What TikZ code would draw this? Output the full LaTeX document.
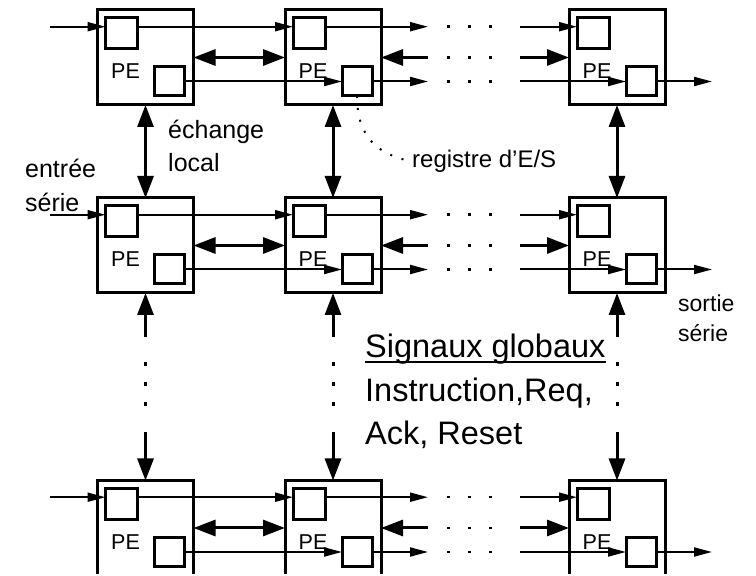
\documentclass[tikz,border=0pt]{standalone}
\usepackage{fontspec}
\setmainfont{Liberation Sans}
\usetikzlibrary{positioning, arrows.meta}

\tikzset{
  xtip/.tip={Triangle[length=22pt,width=16pt]},
  stip/.tip={Triangle[length=18pt,width=9pt]}
}

\begin{document}
\begin{tikzpicture}[x=1pt, y=1pt,
  pebox/.style={draw, line width=3pt, minimum width=96pt, minimum height=95pt, inner sep=0pt, outer sep=0pt},
  reg/.style={draw, line width=3pt, inner sep=0pt, outer sep=0pt},
  petext/.style={inner sep=0pt, font=\fontsize{21.5}{22}\selectfont},
  serial/.style={line width=2pt, -stip},
  xchg/.style={line width=3pt},
  hdots/.style={line width=2.5pt, dash pattern=on 2.5pt off 18.5pt},
  vdots/.style={line width=3pt, dash pattern=on 4pt off 16pt},
  iodots/.style={line width=2pt, dash pattern=on 2pt off 10pt, shorten >=6pt},
  txt/.style={inner sep=0pt, anchor=base west}]
  \useasboundingbox (0,0) rectangle (756,576);
  \clip (0,2) rectangle (756,576);

  % processing elements
  \node[pebox] (pe11) at (145.5,518.5) {};
  \node[pebox, right=91.5pt of pe11]  (pe12) {};
  \node[pebox, right=188pt of pe12]   (pe13) {};
  \node[pebox, below=93pt of pe11]    (pe21) {};
  \node[pebox, right=91.5pt of pe21]  (pe22) {};
  \node[pebox, right=188pt of pe22]   (pe23) {};
  \node[pebox, below=187.5pt of pe21] (pe31) {};
  \node[pebox, right=91.5pt of pe31]  (pe32) {};
  \node[pebox, right=188pt of pe32]   (pe33) {};

  \foreach \i in {1,2,3}
    \foreach \j in {1,2,3} {
      \node[reg, minimum width=32pt, minimum height=31pt, below right=8pt and 8pt of pe\i\j.north west] (ra\i\j) {};
      \node[reg, minimum width=30pt, minimum height=29pt, above left=9pt and 9pt of pe\i\j.south east] (rb\i\j) {};
      \node[petext] (pl\i\j) at ([xshift=-20pt, yshift=-14pt]pe\i\j.center) {PE};
    }

  % columns and rows used by the free ends
  \coordinate (inL)  at (50,0);
  \coordinate (outR) at (712,0);
  \coordinate (gL)   at (428,0);
  \coordinate (dA)   at (447,0);
  \coordinate (dB)   at (491.5,0);
  \coordinate (gR)   at (520,0);
  \coordinate (vA)   at (0,239);
  \coordinate (vdA)  at (0,214);
  \coordinate (vdB)  at (0,170);
  \coordinate (vB)   at (0,144);

  \foreach \i in {1,2,3} {
    \draw[serial] (inL |- ra\i1.157) -- (ra\i1.157);
    \draw[serial] (ra\i1.23) -- (ra\i2.157);
    \draw[serial] (rb\i1.east) -- (rb\i2.west);
    \draw[xchg, xtip-xtip] (pe\i1.east) -- (pe\i2.west);
    \draw[serial] (ra\i2.23) -- (gL |- ra\i2.23);
    \draw[xchg, xtip-] (pe\i2.east) -- (gL |- pe\i2.east);
    \draw[serial] (rb\i2.east) -- (gL |- rb\i2.east);
    \foreach \p in {ra\i2.23, pe\i2.east, rb\i2.east}
      \draw[hdots] (dA |- \p) -- (dB |- \p);
    \draw[serial] (gR |- ra\i3.157) -- (ra\i3.157);
    \draw[xchg, -xtip] (gR |- pe\i3.west) -- (pe\i3.west);
    \draw[serial] (gR |- rb\i3.west) -- (rb\i3.west);
    \draw[serial] (rb\i3.east) -- (outR |- rb\i3.east);
  }

  \foreach \j in {1,2,3} {
    \draw[xchg, xtip-xtip] (pe1\j) -- (pe2\j);
    \draw[xchg, xtip-] (pe2\j.south) -- (pe2\j.south |- vA);
    \draw[vdots] (pe2\j.south |- vdA) -- (pe2\j.south |- vdB);
    \draw[xchg, -xtip] (pe2\j.south |- vB) -- (pe3\j.north);
  }

  % labels
  \node[txt, font=\fontsize{25}{25}\selectfont] (xch1) at (168,437) {échange};
  \node[txt, font=\fontsize{25}{25}\selectfont] (xch2) at (168,404) {local};
  \node[txt, font=\fontsize{25}{25}\selectfont] (in1) at (25,398) {entrée};
  \node[txt, font=\fontsize{25}{25}\selectfont] (in2) at (25,364) {série};
  \node[txt, font=\fontsize{24}{24}\selectfont] (regtxt) at (412,408) {registre d’E/S};
  \node[txt, font=\fontsize{23}{23}\selectfont] (out1) at (678,264) {sortie};
  \node[txt, font=\fontsize{23}{23}\selectfont] (out2) at (678,234) {série};
  \node[txt, font=\fontsize{32.5}{33}\selectfont] (sig1) at (365,218) {Signaux globaux};
  \node[txt, font=\fontsize{32.5}{33}\selectfont] (sig2) at (365,174) {Instruction,Req,};
  \node[txt, font=\fontsize{32.5}{33}\selectfont] (sig3) at (365,131) {Ack, Reset};
  \draw[line width=2.5pt] ([yshift=-4pt]sig1.base west) -- ([yshift=-4pt]sig1.base east);

  \draw[iodots] (rb12.south) .. controls +(0,-45pt) and +(-30pt,8pt) .. (regtxt.west);
\end{tikzpicture}
\end{document}
